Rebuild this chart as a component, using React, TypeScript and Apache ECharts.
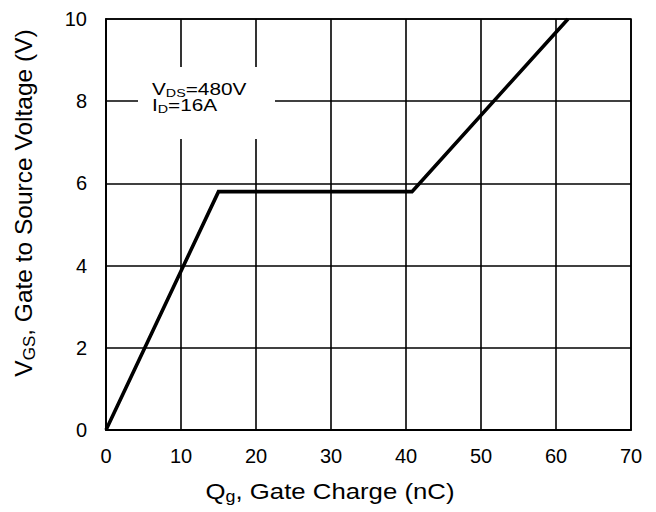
import React, { useEffect, useRef } from "react";
import * as echarts from "echarts";

// Gate charge curve (Qg in nC, VGS in V)
const qgValues: number[] = [0, 15, 40.8, 61.6];
const vgsValues: number[] = [0, 5.8, 5.8, 10];

const xTicks = { min: 0, max: 70, interval: 10 };
const yTicks = { min: 0, max: 10, interval: 2 };

const annotationLines: string[] = [
  "{n|V}{s|DS}{n|=480V}",
  "{n|I}{s|D}{n|=16A}",
];

const FONT = "'Liberation Sans', Arial, Helvetica, sans-serif";

function subRich(main: number, mainLH: number, sub: number, subLH: number) {
  return {
    n: { fontSize: main, lineHeight: mainLH, verticalAlign: "top", fontFamily: FONT, fill: "#000" },
    s: { fontSize: sub, lineHeight: subLH, verticalAlign: "bottom", fontFamily: FONT, fill: "#000" },
  };
}

export default function App() {
  const ref = useRef<HTMLDivElement>(null);

  useEffect(() => {
    if (!ref.current) return;
    const chart = echarts.init(ref.current, undefined, { renderer: "svg" });
    const data = qgValues.map((q, i) => [q, vgsValues[i]]);
    const gridLine = { show: true, lineStyle: { color: "#000", width: 1.6 } };
    chart.setOption({
      animation: false,
      backgroundColor: "#fff",
      grid: {
        left: 106,
        top: 19,
        right: 25,
        bottom: 82,
        show: true,
        borderColor: "#000",
        borderWidth: 1.6,
        backgroundColor: "transparent",
      },
      xAxis: {
        type: "value",
        min: xTicks.min,
        max: xTicks.max,
        interval: xTicks.interval,
        axisLine: { show: true, lineStyle: { color: "#000", width: 1.8 } },
        axisTick: { show: false },
        splitLine: gridLine,
        axisLabel: { color: "#000", fontSize: 20, fontFamily: FONT, margin: 16 },
      },
      yAxis: {
        type: "value",
        min: yTicks.min,
        max: yTicks.max,
        interval: yTicks.interval,
        axisLine: { show: true, lineStyle: { color: "#000", width: 1.8 } },
        axisTick: { show: false },
        splitLine: gridLine,
        axisLabel: { color: "#000", fontSize: 20, fontFamily: FONT, margin: 19 },
      },
      series: [
        {
          type: "line",
          data,
          symbol: "none",
          clip: true,
          z: 5,
          lineStyle: { color: "#000", width: 3.6, join: "miter" },
        },
      ],
      graphic: [
        {
          type: "rect",
          z: 100,
          shape: { x: 138, y: 67, width: 137, height: 72 },
          style: { fill: "#fff" },
        },
        ...annotationLines.map((t, i) => ({
          type: "text",
          z: 101,
          x: 152,
          y: 81 + i * 16,
          scaleX: 1.3,
          style: {
            text: t,
            textAlign: "left",
            textVerticalAlign: "top",
            fill: "#000",
            fontFamily: FONT,
            rich: subRich(16, 16, 11, 17.3),
          },
        })),
        {
          type: "text",
          z: 101,
          x: 330,
          y: 492,
          scaleX: 1.12,
          style: {
            text: "{n|Q}{s|g}{n|, Gate Charge (nC)}",
            textAlign: "center",
            textVerticalAlign: "middle",
            fill: "#000",
            fontFamily: FONT,
            rich: subRich(23, 23, 16, 25),
          },
        },
        {
          type: "text",
          z: 101,
          x: 24.5,
          y: 203,
          rotation: Math.PI / 2,
          style: {
            text: "{n|V}{s|GS}{n|, Gate to Source Voltage (V)}",
            textAlign: "center",
            textVerticalAlign: "middle",
            fill: "#000",
            fontFamily: FONT,
            rich: subRich(24.5, 24, 17, 26.3),
          },
        },
      ],
    });
    return () => chart.dispose();
  }, []);

  return (
    <div
      ref={ref}
      style={{ position: "absolute", left: 0, top: 0, width: 656, height: 512 }}
    />
  );
}
